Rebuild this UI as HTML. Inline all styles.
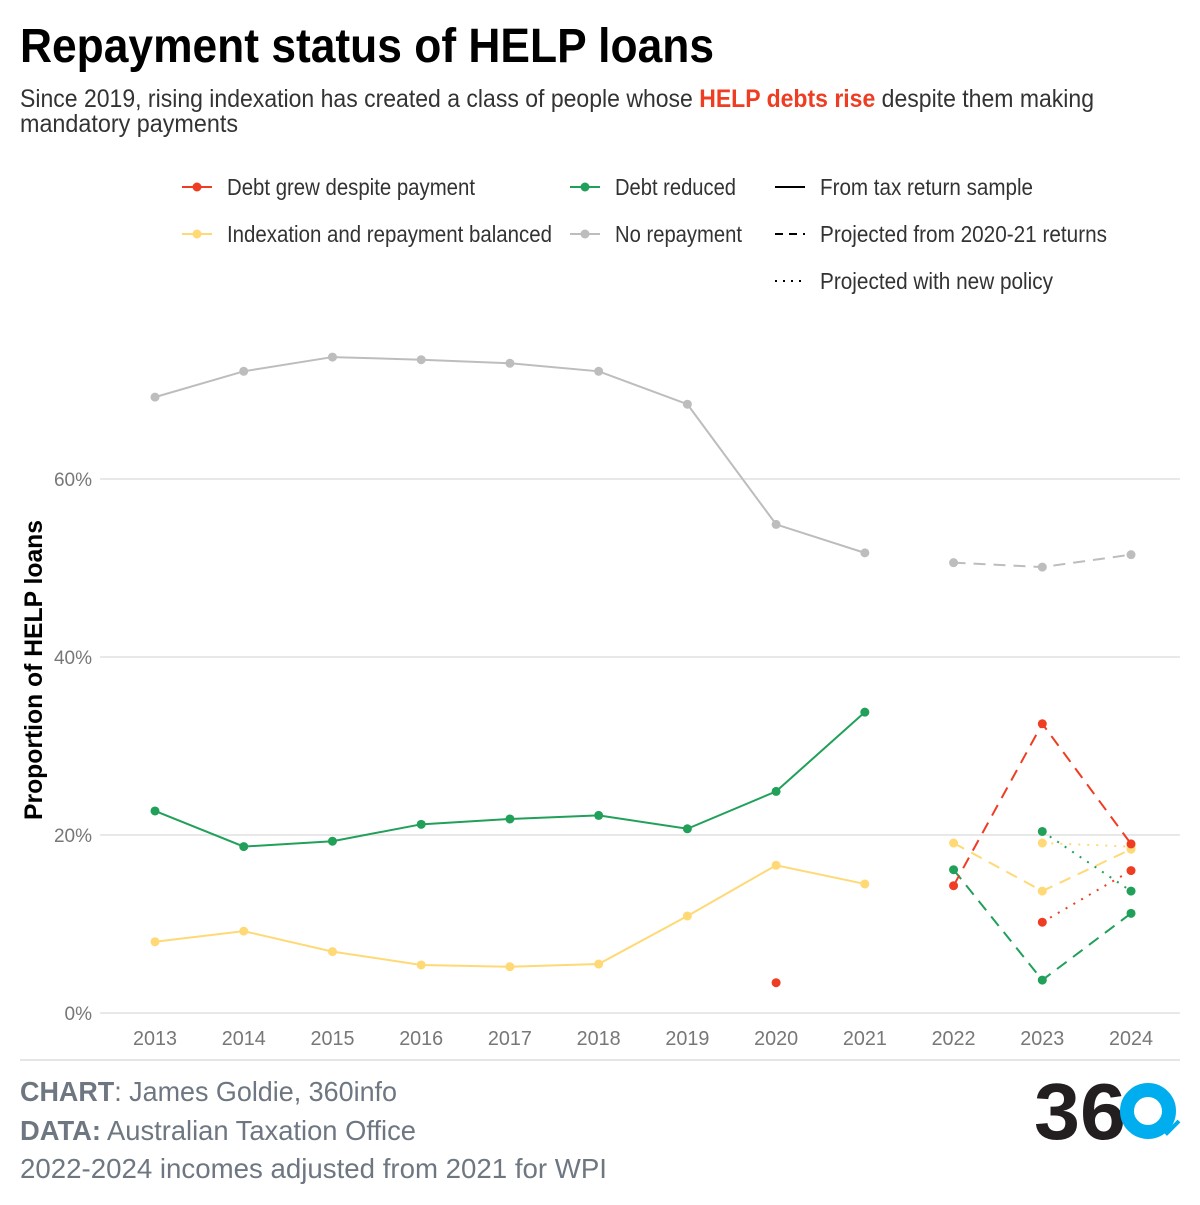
<!DOCTYPE html>
<html><head><meta charset="utf-8">
<style>
body{margin:0;background:#fff;width:1200px;height:1200px;overflow:hidden;font-family:"Liberation Sans",sans-serif;}
svg text{font-family:"Liberation Sans",sans-serif;}
</style></head>
<body>
<svg width="1200" height="1200" viewBox="0 0 1200 1200">
<text x="20" y="62" font-size="48" font-weight="bold" fill="#000" textLength="694" lengthAdjust="spacingAndGlyphs">Repayment status of HELP loans</text>
<text x="20" y="107" font-size="25" fill="#333" textLength="1074" lengthAdjust="spacingAndGlyphs">Since 2019, rising indexation has created a class of people whose <tspan fill="#ee3d23" font-weight="bold">HELP debts rise</tspan> despite them making</text>
<text x="20" y="132" font-size="25" fill="#333" textLength="218" lengthAdjust="spacingAndGlyphs">mandatory payments</text>
<g id="legend" font-size="23" fill="#333"></g>
<g id="grid"></g>
<g id="marks"></g>
<text transform="translate(42,670) rotate(-90)" text-anchor="middle" font-size="25" font-weight="bold" fill="#000" textLength="300" lengthAdjust="spacingAndGlyphs">Proportion of HELP loans</text>
<line x1="20" y1="1060" x2="1180" y2="1060" stroke="#ccc" stroke-width="1"/>
<text x="20" y="1101" font-size="28" fill="#6e7781" textLength="377" lengthAdjust="spacingAndGlyphs"><tspan font-weight="bold">CHART</tspan>: James Goldie, 360info</text>
<text x="20" y="1140" font-size="28" fill="#6e7781" textLength="396" lengthAdjust="spacingAndGlyphs"><tspan font-weight="bold">DATA:</tspan> Australian Taxation Office</text>
<text x="20" y="1178" font-size="28" fill="#6e7781" textLength="587" lengthAdjust="spacingAndGlyphs">2022-2024 incomes adjusted from 2021 for WPI</text>
<g>
<text x="1034" y="1139" font-size="80" font-weight="bold" fill="#231f20" textLength="92" lengthAdjust="spacingAndGlyphs">36</text>
<circle cx="1148" cy="1111" r="21" fill="none" stroke="#00aeef" stroke-width="14"/>
<path d="M1160 1126 l7 7 l12 -12" stroke="#00aeef" stroke-width="4" fill="none"/>
</g>
</svg>
<script>
const years=[2013,2014,2015,2016,2017,2018,2019,2020,2021,2022,2023,2024];
const noRepay=[69.2,72.1,73.7,73.4,73.0,72.1,68.4,54.9,51.7];
const noRepayProj=[50.6,50.1,51.5];
const reduced=[22.7,18.7,19.3,21.2,21.8,22.2,20.7,24.9,33.8];
const reducedProj=[16.1,3.7,11.2];
const reducedPolicy=[20.4,13.7];
const balanced=[8.0,9.2,6.9,5.4,5.2,5.5,10.9,16.6,14.5];
const balancedProj=[19.1,13.7,18.4];
const balancedPolicy=[19.1,18.7];
const grewSingle=[3.4];
const grewProj=[14.3,32.5,19.0];
const grewPolicy=[10.2,16.0];
const yTicks=[0,20,40,60];
const C={red:"#ee3d23",green:"#21a05a",yellow:"#fed976",grey:"#bdbdbd"};
const NS="http://www.w3.org/2000/svg";
const xS=y=>155+(y-2013)*88.73;
const yS=v=>1013-v*8.9;
function mk(tag,attrs,parent){const e=document.createElementNS(NS,tag);for(const k in attrs)e.setAttribute(k,attrs[k]);parent.appendChild(e);return e;}
const grid=document.getElementById('grid'),marks=document.getElementById('marks'),leg=document.getElementById('legend');
yTicks.forEach(t=>{
 const l=mk('line',{x1:100,x2:1180,y1:yS(t),y2:yS(t),stroke:'#e8e8e8','stroke-width':2},grid);
 
 
 const tx=mk('text',{x:92,y:yS(t)+7,'text-anchor':'end','font-size':19,fill:'#777'},grid);tx.textContent=t+'%';
 
 
});
years.forEach(y=>{
 const tx=mk('text',{x:xS(y),y:1045,'text-anchor':'middle','font-size':20,fill:'#777',textLength:44,lengthAdjust:'spacingAndGlyphs'},grid);tx.textContent=y;
 
 
});
function series(vals,startYear,color,dash,name){
 const pts=vals.map((v,i)=>[xS(startYear+i),yS(v)]);
 if(pts.length>1){
  const p=mk('polyline',{points:pts.map(p=>p.join(',')).join(' '),fill:'none',stroke:color,'stroke-width':2},marks);
  if(dash)p.setAttribute('stroke-dasharray',dash);
  
  
 }
 pts.forEach(p=>{const c=mk('circle',{cx:p[0],cy:p[1],r:4.5,fill:color},marks);
  
  });
}
series(noRepay,2013,C.grey,null,'no-repayment');
series(noRepayProj,2022,C.grey,'12,8','no-repayment-projected');
series(reduced,2013,C.green,null,'debt-reduced');
series(balanced,2013,C.yellow,null,'balanced');
series(grewSingle,2020,C.red,null,'debt-grew');
series(balancedProj,2022,C.yellow,'12,8','balanced-projected');
series(balancedPolicy,2023,C.yellow,'2,7','balanced-policy');
series(reducedProj,2022,C.green,'12,8','debt-reduced-projected');
series(reducedPolicy,2023,C.green,'2,7','debt-reduced-policy');
series(grewProj,2022,C.red,'12,8','debt-grew-projected');
series(grewPolicy,2023,C.red,'2,7','debt-grew-policy');
const legItems=[
 [187,195,C.red,null,'Debt grew despite payment','legend-debt-grew',true,248],
 [575,195,C.green,null,'Debt reduced','legend-debt-reduced',true,121],
 [187,242,C.yellow,null,'Indexation and repayment balanced','legend-balanced',true,325],
 [575,242,C.grey,null,'No repayment','legend-no-repayment',true,127],
 [780,195,'#000',null,'From tax return sample','legend-tax-sample',false,213],
 [780,242,'#000','8,6','Projected from 2020-21 returns','legend-projected',false,287],
 [780,289,'#000','2,6','Projected with new policy','legend-policy',false,233]];
legItems.forEach(it=>{
 const g=mk('g',{},leg);
 
 
 const l=mk('line',{x1:it[0]-5,x2:it[0]+25,y1:it[1]-8,y2:it[1]-8,stroke:it[2],'stroke-width':2},g);
 if(it[3])l.setAttribute('stroke-dasharray',it[3]);
 if(it[6])mk('circle',{cx:it[0]+10,cy:it[1]-8,r:4.5,fill:it[2]},g);
 const t=mk('text',{x:it[0]+40,y:it[1],'font-size':23,fill:'#333',textLength:it[7],lengthAdjust:'spacingAndGlyphs'},g);t.textContent=it[4];
});
</script>
</body></html>
